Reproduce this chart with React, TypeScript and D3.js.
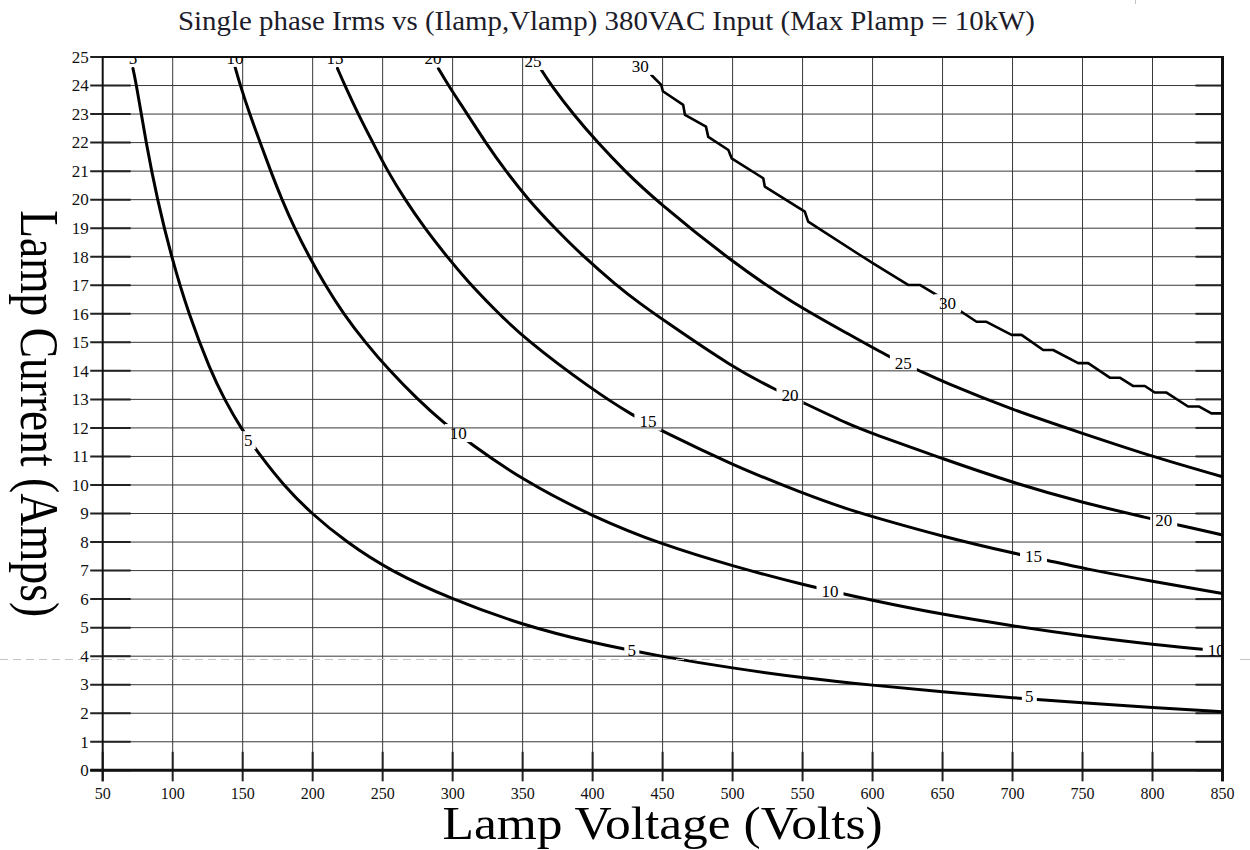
import React, { useEffect, useRef } from 'react';
import * as d3 from 'd3';

type Pt = [number, number];

const title = 'Single phase Irms vs (Ilamp,Vlamp) 380VAC Input (Max Plamp = 10kW)';
const xLabel = 'Lamp Voltage (Volts)';
const yLabel = 'Lamp Current (Amps)';

const voltTicks = [50, 100, 150, 200, 250, 300, 350, 400, 450, 500, 550, 600, 650, 700, 750, 800, 850];
const ampTicks = [0, 1, 2, 3, 4, 5, 6, 7, 8, 9, 10, 11, 12, 13, 14, 15, 16, 17, 18, 19, 20, 21, 22, 23, 24, 25];

const levels = [5, 10, 15, 20, 25, 30];

// (Vlamp, Ilamp) points
const curve5: Pt[] = [
  [71.6, 24.6], [74.2, 24], [80.9, 22], [89, 20], [99, 18], [111.3, 16], [127, 14], [137, 13],
  [148.5, 12], [163, 11], [179, 10], [199, 9], [224, 8], [255, 7], [299, 6.0], [350, 5.09],
  [400, 4.46], [450, 3.98], [500, 3.58], [550, 3.24], [600, 2.98], [650, 2.75], [700, 2.54],
  [750, 2.36], [800, 2.2], [850, 2.05],
];
const curve10: Pt[] = [
  [144.5, 24.66], [148.3, 24], [155, 23], [162.5, 22], [170, 21], [178, 20], [187, 19],
  [197.5, 18], [209, 17], [222, 16], [237.5, 15], [255, 14], [275, 13], [293, 12.2],
  [312.4, 11.46], [350, 10.17], [400, 8.89], [450, 7.9], [500, 7.16], [550, 6.5], [600, 5.95],
  [650, 5.46], [700, 5.06], [750, 4.71], [800, 4.41], [850, 4.18],
];
const curve15: Pt[] = [
  [217.7, 24.6], [223, 24], [232.5, 23], [243, 22], [253.5, 21], [266, 20], [280, 19],
  [296, 18], [310, 17.18], [329, 16.2], [351, 15.14], [400, 13.33], [429, 12.43],
  [449, 11.9], [500, 10.7], [550, 9.71], [584, 9.12], [600, 8.89], [650, 8.19], [704, 7.57],
  [724, 7.37], [750, 7.08], [800, 6.62], [850, 6.2],
];
const curve20: Pt[] = [
  [289.8, 24.6], [297, 24], [310.5, 23], [323.5, 22], [338, 21], [354, 20], [373, 19],
  [393.5, 18], [417, 17], [433.8, 16.36], [450, 15.8], [500, 14.12], [531, 13.33],
  [550, 12.9], [584, 12.1], [600, 11.8], [650, 10.92], [700, 10.08], [750, 9.38],
  [798, 8.83], [818, 8.6], [850, 8.25],
];
const curve25: Pt[] = [
  [363.4, 24.55], [370.5, 24], [386, 23], [403.6, 22], [423, 21], [444.5, 20], [500, 17.8],
  [543, 16.37], [584, 15.26], [613.6, 14.44], [632.6, 14.03], [650, 13.62], [700, 12.63],
  [750, 11.81], [800, 10.99], [850, 10.29],
];
const curve30: Pt[] = [
  [442, 24.37], [449, 24.02], [450.2, 23.8], [464.7, 23.32], [466, 22.97], [481, 22.56],
  [482.6, 22.2], [497, 21.74], [499.3, 21.45], [521.9, 20.75], [523, 20.46], [551.6, 19.58],
  [554, 19.23], [591, 18.06], [600.4, 17.77], [625.4, 17.01], [633.8, 17.01], [645.7, 16.66],
  [663.5, 16.07], [674.3, 15.72], [681.4, 15.72], [699.3, 15.26], [706.4, 15.26],
  [721.9, 14.73], [729, 14.73], [746.9, 14.27], [754, 14.27], [769.5, 13.76], [776.6, 13.76],
  [786, 13.47], [794.5, 13.47], [801.6, 13.24], [810, 13.24], [825.4, 12.75], [833.4, 12.75],
  [842.1, 12.51], [850, 12.51],
];
const curves = [curve5, curve10, curve15, curve20, curve25, curve30];

// inline contour label positions (V, I)
const labels5: Pt[] = [[71.6, 24.97], [154, 11.57], [428, 4.22], [712, 2.58]];
const labels10: Pt[] = [[144.6, 24.97], [304, 11.82], [569.6, 6.26], [845.5, 4.22]];
const labels15: Pt[] = [[216, 24.97], [439.5, 12.22], [715, 7.49]];
const labels20: Pt[] = [[286, 24.95], [541, 13.15], [808, 8.75]];
const labels25: Pt[] = [[357.5, 24.86], [622, 14.27]];
const labels30: Pt[] = [[434, 24.69], [653.6, 16.37]];
const labelSets = [labels5, labels10, labels15, labels20, labels25, labels30];

const serif = '"Liberation Serif", "Times New Roman", serif';

const App: React.FC = () => {
  const ref = useRef<SVGSVGElement | null>(null);

  useEffect(() => {
    if (!ref.current) return;
    const svg = d3.select(ref.current);
    svg.selectAll('*').remove();
    const width = 1250;
    const height = 850;
    svg.attr('width', width).attr('height', height);

    const x = d3.scaleLinear().domain([50, 850]).range([102.7, 1222.5]);
    const y = d3.scaleLinear().domain([0, 25]).range([770.3, 57]);
    const [x0, x1] = x.range();
    const [y0, y1] = y.range();

    svg.append('rect').attr('width', width).attr('height', height).attr('fill', '#fff');

    const defs = svg.append('defs');
    defs.append('clipPath').attr('id', 'plot')
      .append('rect').attr('x', x0).attr('y', y1).attr('width', x1 - x0).attr('height', y0 - y1);

    const mask = defs.append('mask').attr('id', 'gaps')
      .attr('maskUnits', 'userSpaceOnUse')
      .attr('x', 0).attr('y', 0).attr('width', width).attr('height', height);
    mask.append('rect').attr('width', width).attr('height', height).attr('fill', '#fff');
    labelSets.forEach((set, k) => {
      const w = String(levels[k]).length * 12 + 3;
      set.forEach(p => {
        mask.append('rect')
          .attr('x', x(p[0]) - w / 2).attr('y', y(p[1]) - 9)
          .attr('width', w).attr('height', 18).attr('fill', '#000');
      });
    });

    // grid
    const grid = svg.append('g').attr('stroke', '#383838').attr('stroke-width', 1);
    grid.selectAll('.h').data(ampTicks.slice(1, -1)).enter().append('line')
      .attr('x1', x0).attr('x2', x1).attr('y1', d => y(d)).attr('y2', d => y(d));
    grid.selectAll('.v').data(voltTicks.slice(1, -1)).enter().append('line')
      .attr('y1', y0).attr('y2', y1).attr('x1', d => x(d)).attr('x2', d => x(d));

    // ticks
    const ticks = svg.append('g').attr('stroke', '#222').attr('stroke-width', 2);
    ticks.selectAll('.l').data(ampTicks).enter().append('line')
      .attr('x1', x0 - 12.5).attr('x2', x0 + 28).attr('y1', d => y(d)).attr('y2', d => y(d));
    ticks.selectAll('.r').data(ampTicks).enter().append('line')
      .attr('x1', x1 - 27).attr('x2', x1).attr('y1', d => y(d)).attr('y2', d => y(d));
    ticks.selectAll('.b').data(voltTicks).enter().append('line')
      .attr('y1', y0 - 18.5).attr('y2', y0 + 11).attr('x1', d => x(d)).attr('x2', d => x(d));

    // frame
    svg.append('line').attr('x1', x0).attr('x2', x1).attr('y1', y1).attr('y2', y1)
      .attr('stroke', '#111').attr('stroke-width', 2);
    svg.append('line').attr('x1', x1).attr('x2', x1).attr('y1', y1 - 1).attr('y2', y0 + 11)
      .attr('stroke', '#111').attr('stroke-width', 3);
    svg.append('line').attr('x1', x0).attr('x2', x0).attr('y1', y1 - 1).attr('y2', y0 + 11)
      .attr('stroke', '#111').attr('stroke-width', 2);
    svg.append('line').attr('x1', x0 - 12.5).attr('x2', x1).attr('y1', y0).attr('y2', y0)
      .attr('stroke', '#111').attr('stroke-width', 3);

    // tick labels
    svg.append('g').selectAll('text').data(ampTicks).enter().append('text')
      .attr('x', x0 - 14).attr('y', d => y(d)).attr('dy', '0.34em')
      .attr('text-anchor', 'end').attr('font-family', serif).attr('font-size', 17)
      .attr('fill', '#111').text(d => d);
    svg.append('g').selectAll('text').data(voltTicks).enter().append('text')
      .attr('x', d => x(d)).attr('y', 799)
      .attr('text-anchor', 'middle').attr('font-family', serif).attr('font-size', 16)
      .attr('fill', '#111').text(d => d);

    // contours
    const smooth = d3.line<Pt>().x(d => x(d[0])).y(d => y(d[1])).curve(d3.curveBasis);
    const stepped = d3.line<Pt>().x(d => x(d[0])).y(d => y(d[1]));
    const plot = svg.append('g').attr('clip-path', 'url(#plot)');
    const lines = plot.append('g').attr('mask', 'url(#gaps)');
    curves.forEach((c, k) => {
      lines.append('path')
        .attr('d', (k === 5 ? stepped : smooth)(c) as string)
        .attr('fill', 'none').attr('stroke', '#000')
        .attr('stroke-width', k === 5 ? 2.6 : 3)
        .attr('stroke-linejoin', 'round').attr('stroke-linecap', 'round');
    });
    labelSets.forEach((set, k) => {
      plot.append('g').selectAll('text').data(set).enter().append('text')
        .attr('x', d => x(d[0])).attr('y', d => y(d[1])).attr('dy', '0.34em')
        .attr('text-anchor', 'middle').attr('font-family', serif).attr('font-size', 17)
        .attr('fill', '#000').text(levels[k]);
    });

    // titles
    svg.append('text').attr('x', 606.5).attr('y', 30).attr('text-anchor', 'middle')
      .attr('font-family', serif).attr('font-size', 27).attr('fill', '#1c1c2a')
      .attr('textLength', 857).attr('lengthAdjust', 'spacingAndGlyphs').text(title);
    svg.append('text').attr('x', (x0 + x1) / 2).attr('y', 839).attr('text-anchor', 'middle')
      .attr('font-family', serif).attr('font-size', 47).attr('fill', '#000')
      .attr('textLength', 440).attr('lengthAdjust', 'spacingAndGlyphs').text(xLabel);
    svg.append('text').attr('transform', `translate(21,${(y0 + y1) / 2}) rotate(90)`)
      .attr('text-anchor', 'middle')
      .attr('font-family', serif).attr('font-size', 55).attr('fill', '#000')
      .attr('textLength', 407).attr('lengthAdjust', 'spacingAndGlyphs').text(yLabel);

    // page guide overlay from the screenshot
    svg.append('line').attr('x1', 0).attr('x2', 1125).attr('y1', 659.5).attr('y2', 659.5)
      .attr('stroke', '#c4c4c4').attr('stroke-width', 1).attr('stroke-dasharray', '8,5');
    svg.append('line').attr('x1', 1240).attr('x2', 1250).attr('y1', 659.5).attr('y2', 659.5)
      .attr('stroke', '#c4c4c4').attr('stroke-width', 1);
    svg.append('line').attr('x1', 1135.5).attr('x2', 1135.5).attr('y1', 0).attr('y2', 4)
      .attr('stroke', '#c4c4c4').attr('stroke-width', 1);
  }, []);

  return <svg ref={ref} style={{ position: 'absolute', left: 0, top: 0 }} />;
};

export default App;
